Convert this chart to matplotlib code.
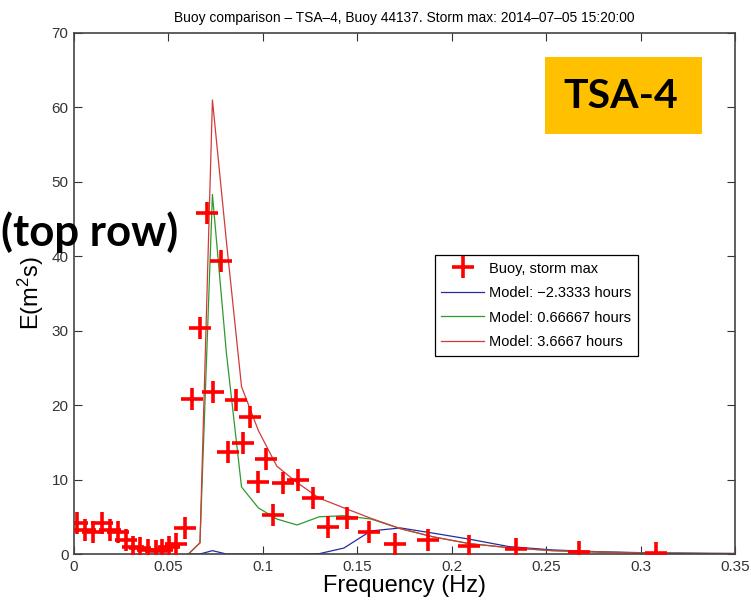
import matplotlib
matplotlib.use("Agg")
import matplotlib.pyplot as plt
from matplotlib.patches import Rectangle

plt.rcParams['font.family'] = ['Liberation Sans', 'DejaVu Sans']
plt.rcParams['mathtext.default'] = 'regular'

# buoy spectrum at storm max
buoy_freq = [0.0018, 0.0058, 0.0100, 0.0150, 0.0192, 0.0232, 0.0275, 0.0315,
             0.0352, 0.0393, 0.0432, 0.0468, 0.0505, 0.0540, 0.0587,
             0.0623, 0.0667, 0.0702, 0.0737, 0.0781, 0.0817, 0.0857, 0.0896,
             0.0931, 0.0975, 0.1014, 0.1055, 0.1107, 0.1187, 0.1266, 0.1346,
             0.1443, 0.1561, 0.1698, 0.1875, 0.2092, 0.2342, 0.2674, 0.3083]
buoy_energy = [4.1, 3.2, 3.0, 4.2, 3.2, 2.9, 1.9, 1.0,
               0.8, 0.5, 0.45, 0.6, 0.9, 1.3, 3.5,
               20.8, 30.4, 45.8, 21.7, 39.3, 13.7, 20.7, 14.9,
               18.4, 9.7, 12.8, 5.2, 9.5, 9.9, 7.5, 3.6,
               4.9, 2.9, 1.4, 1.9, 1.1, 0.7, 0.3, 0.17]

# model spectra
model_freq = [0.0606, 0.0667, 0.0733, 0.0807, 0.0887, 0.0976, 0.1074, 0.1181,
              0.1299, 0.1429, 0.1572, 0.1729, 0.1902, 0.2092, 0.2302, 0.2532,
              0.2785, 0.3063, 0.3370, 0.3707]
model_m233 = [0.0, 0.0, 0.45, 0.0, 0.0, 0.0, 0.0, 0.0,
              0.05, 0.8, 3.1, 3.5, 2.8, 2.0, 1.0, 0.55,
              0.3, 0.15, 0.08, 0.05]
model_067 = [0.0, 1.5, 48.3, 27.0, 9.0, 6.2, 4.7, 3.9,
             5.0, 5.15, 4.7, 3.4, 2.3, 1.4, 0.85, 0.45,
             0.25, 0.12, 0.07, 0.04]
model_367 = [0.0, 1.5, 61.0, 42.0, 22.5, 16.6, 11.8, 9.6,
             7.5, 6.2, 4.8, 3.4, 2.3, 1.4, 0.85, 0.45,
             0.25, 0.12, 0.07, 0.04]

W, H = 751, 605
fig = plt.figure(figsize=(W / 100, H / 100), dpi=100)
ax = fig.add_axes([74 / W, 1 - 554 / H, 661 / W, 521 / H])

ax.plot(buoy_freq, buoy_energy, '+', color='#ff0000', ms=16, mew=2.6,
        label='Buoy, storm max', zorder=3)
ax.plot(model_freq, model_m233, color='#2a2aa0', lw=0.9, label='Model: \u22122.3333 hours')
ax.plot(model_freq, model_067, color='#2e9a2e', lw=0.9, label='Model: 0.66667 hours')
ax.plot(model_freq, model_367, color='#d23a3a', lw=0.9, label='Model: 3.6667 hours')

ax.set_xlim(0, 0.35)
ax.set_ylim(0, 70)
ax.set_xticks([0, 0.05, 0.1, 0.15, 0.2, 0.25, 0.3, 0.35])
ax.set_xticklabels(['0', '0.05', '0.1', '0.15', '0.2', '0.25', '0.3', '0.35'])
ax.set_yticks(range(0, 71, 10))
ax.tick_params(direction='in', length=6, width=0.8, top=True, right=True,
               labelsize=11, colors='#333333', pad=4)
for s in ax.spines.values():
    s.set_color('#444444')
    s.set_linewidth(1.2)

ax.set_xlabel('Frequency (Hz)', fontsize=17, labelpad=1)
ax.set_ylabel('E(m$^{2}$s)', fontsize=17, labelpad=4)
ax.set_title('Buoy comparison \u2013 TSA\u20134, Buoy 44137. Storm max: 2014\u201307\u201305 15:20:00',
             fontsize=9.9, pad=8)

leg = ax.legend(loc='upper left', bbox_to_anchor=(0.546, 0.574), fontsize=10.5,
                fancybox=False, framealpha=1, edgecolor='black',
                handlelength=2.9, borderpad=0.45, labelspacing=0.72,
                handletextpad=0.35, borderaxespad=0)
leg.get_frame().set_linewidth(0.9)

# run label box and row note
fig.patches.append(Rectangle((545 / W, 1 - 134 / H), 157 / W, 77 / H,
                             transform=fig.transFigure, facecolor='#ffc000',
                             edgecolor='none', zorder=5))
fig.text(621 / W, 1 - 96 / H, 'TSA-4', fontsize=29.5, fontweight='bold',
         family=['Lato', 'DejaVu Sans'], ha='center', va='center', zorder=6)
fig.text(1 / W, 1 - 232 / H, '(top row)', fontsize=31.5, fontweight='bold',
         family=['Lato', 'DejaVu Sans'], ha='left', va='center', zorder=6)

fig.savefig('out.png', dpi=100)
